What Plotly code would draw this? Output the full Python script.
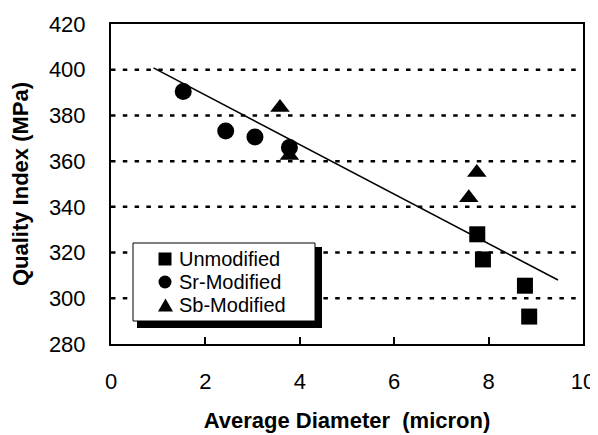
import plotly.graph_objects as go

# Data
unmod_x = [7.76, 7.88, 8.77, 8.86]
unmod_y = [328.0, 317.0, 305.5, 292.0]

sr_x = [1.53, 2.43, 3.05, 3.78]
sr_y = [390.5, 373.2, 370.6, 366.0]

sb_x = [3.58, 3.78, 7.58, 7.75]
sb_y = [383.5, 362.5, 344.0, 355.0]

trend_x = [0.9, 9.47]
trend_y = [400.8, 308.0]

x_ticks = [0, 2, 4, 6, 8, 10]
y_ticks = [280, 300, 320, 340, 360, 380, 400, 420]
grid_values = [300, 320, 340, 360, 380, 400]

series_names = ["Unmodified", "Sr-Modified", "Sb-Modified"]

# plot area in page pixels (for legend placement helpers)
L, R, T, B = 111, 583, 24, 344
PAGE_OFFSET = 8  # default body margin of the html page
FIG_W, FIG_H = 598 - PAGE_OFFSET, 435 - PAGE_OFFSET


def px(x):
    return (x - L) / (R - L)


def py(y):
    return (B - y) / (B - T)


fig = go.Figure()

fig.add_trace(go.Scatter(x=trend_x, y=trend_y, mode="lines",
                         line=dict(color="black", width=1.5), showlegend=False,
                         hoverinfo="skip"))
fig.add_trace(go.Scatter(x=unmod_x, y=unmod_y, mode="markers", name=series_names[0],
                         showlegend=False,
                         marker=dict(symbol="square", size=16, color="black")))
fig.add_trace(go.Scatter(x=sr_x, y=sr_y, mode="markers", name=series_names[1],
                         showlegend=False,
                         marker=dict(symbol="circle", size=17, color="black")))
fig.add_trace(go.Scatter(x=sb_x, y=sb_y, mode="markers", name=series_names[2],
                         showlegend=False,
                         marker=dict(symbol="triangle-up", size=17, color="black")))

# dotted gridlines
for v in grid_values:
    fig.add_shape(type="line", xref="paper", yref="y", x0=0, x1=1, y0=v, y1=v,
                  line=dict(color="black", width=2.5, dash="4.5px,7.3px"), layer="below")

# legend: shadow, box, symbols, text
row_y = [259, 282, 305]
fig.add_shape(type="rect", xref="paper", yref="paper",
              x0=px(137), x1=px(322), y0=py(328), y1=py(247),
              fillcolor="black", line=dict(width=0), layer="above")
fig.add_shape(type="rect", xref="paper", yref="paper",
              x0=px(133), x1=px(315), y0=py(321), y1=py(243),
              fillcolor="white", line=dict(color="black", width=1), layer="above")
# square
fig.add_shape(type="rect", xref="paper", yref="paper",
              x0=px(158.5), x1=px(171.5), y0=py(row_y[0] + 6.5), y1=py(row_y[0] - 6.5),
              fillcolor="black", line=dict(width=0), layer="above")
# circle
fig.add_shape(type="circle", xref="paper", yref="paper",
              x0=px(158.5), x1=px(171.5), y0=py(row_y[1] + 6.5), y1=py(row_y[1] - 6.5),
              fillcolor="black", line=dict(width=0), layer="above")
# triangle
fig.add_shape(type="path", xref="paper", yref="paper",
              path=(f"M {px(158)} {py(row_y[2] + 6.5)} L {px(173)} {py(row_y[2] + 6.5)} "
                    f"L {px(165.5)} {py(row_y[2] - 6.5)} Z"),
              fillcolor="black", line=dict(width=0), layer="above")

for name, yc in zip(series_names, row_y):
    fig.add_annotation(xref="paper", yref="paper", x=px(178), y=py(yc),
                       xanchor="left", yanchor="middle", text=name, showarrow=False,
                       borderpad=0, font=dict(size=20, color="black"))

fig.update_layout(
    width=FIG_W, height=FIG_H,
    margin=dict(l=L - PAGE_OFFSET, r=FIG_W - (R - PAGE_OFFSET),
                t=T - PAGE_OFFSET, b=FIG_H - (B - PAGE_OFFSET), pad=0),
    paper_bgcolor="white", plot_bgcolor="white",
    font=dict(family="Arial, Liberation Sans, sans-serif", color="black", size=22),
    showlegend=False,
    xaxis=dict(range=[0, 10], tickvals=x_ticks, showgrid=False, zeroline=False,
               showline=True, linecolor="black", linewidth=2, mirror=True,
               ticks="inside", ticklen=7, tickcolor="black", tickwidth=2,
               ticklabelstandoff=17, automargin=False,
               title=dict(text="<b>Average Diameter&nbsp; (micron)</b>", standoff=19,
                          font=dict(size=22))),
    yaxis=dict(range=[280, 420], tickvals=y_ticks, showgrid=False, zeroline=False,
               showline=True, linecolor="black", linewidth=2, mirror=True,
               ticks="", ticklabelstandoff=19, automargin=False,
               title=dict(text="<b>Quality Index (MPa)</b>", standoff=15,
                          font=dict(size=22))),
)

fig.write_html("out.html")
